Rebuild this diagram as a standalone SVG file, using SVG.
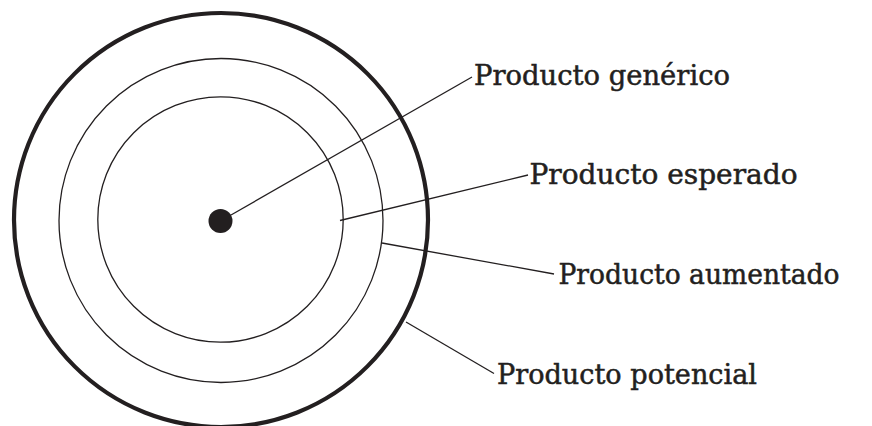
<svg xmlns="http://www.w3.org/2000/svg" width="872" height="426" viewBox="0 0 872 426">
<style>
.ring{fill:none;stroke:#231f20;stroke-width:1.3}
.conn line{stroke:#231f20;stroke-width:1.3}
.lbl{font-family:"DejaVu Serif","Liberation Serif",serif;font-size:27px;fill:#231f20;stroke:#231f20;stroke-width:0.5}
</style>
<rect width="872" height="426" fill="#fff"/>
<g id="potencial"><circle cx="221" cy="220" r="207" fill="none" stroke="#231f20" stroke-width="4.2"/></g>
<g id="aumentado"><circle class="ring" cx="221" cy="220.5" r="162"/></g>
<g id="esperado"><circle class="ring" cx="220.5" cy="219.5" r="122.7"/></g>
<g id="generico"><circle cx="220.5" cy="221" r="12" fill="#231f20"/></g>
<g id="connectors" class="conn">
<line x1="231" y1="215" x2="472" y2="77"/>
<line x1="340" y1="220.5" x2="528" y2="175"/>
<line x1="382" y1="243" x2="554" y2="274"/>
<line x1="406" y1="322" x2="494" y2="373.5"/>
</g>
<g id="labels">
<text class="lbl" x="474" y="84.5" textLength="256" lengthAdjust="spacingAndGlyphs">Producto genérico</text>
<text class="lbl" x="529.5" y="183.5" textLength="268" lengthAdjust="spacingAndGlyphs">Producto esperado</text>
<text class="lbl" x="558.5" y="283.5" textLength="281" lengthAdjust="spacingAndGlyphs">Producto aumentado</text>
<text class="lbl" x="497" y="383.5" textLength="260" lengthAdjust="spacingAndGlyphs">Producto potencial</text>
</g>
</svg>
